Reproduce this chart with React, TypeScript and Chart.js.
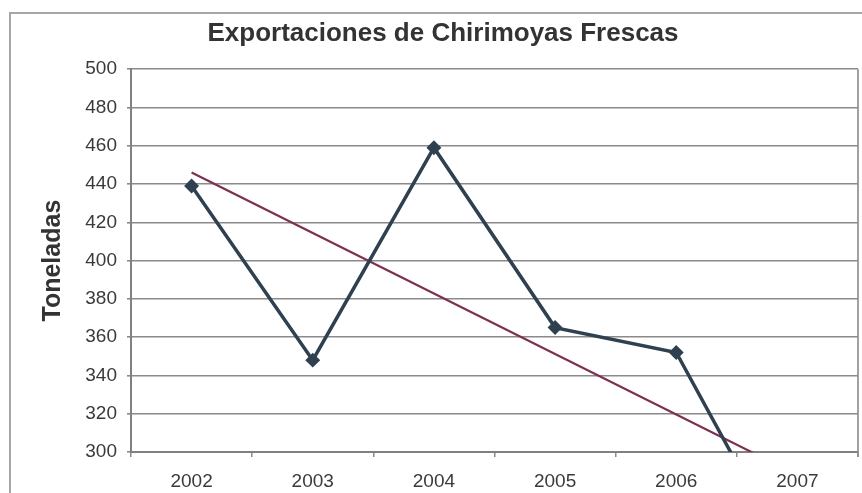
import React, { useEffect, useRef } from "react";
import { Chart, registerables } from "chart.js";

Chart.register(...registerables);

const years = ["2002", "2003", "2004", "2005", "2006", "2007"];
const exportsTons = [439, 348, 459, 365, 352, 236];
// Trend line end points (2002 and 2007)
const trendTons = [446, null, null, null, null, 288];
const yTicks = { min: 300, max: 500, step: 20 };

const chartTitle = "Exportaciones de Chirimoyas Frescas";
const yTitle = "Toneladas";

const frame = {
  id: "frame",
  beforeDraw(chart: any) {
    const ctx = chart.ctx;
    ctx.save();
    ctx.fillStyle = "#ffffff";
    ctx.fillRect(0, 0, chart.width, chart.height);
    ctx.strokeStyle = "#a6a6a6";
    ctx.lineWidth = 2;
    ctx.strokeRect(10, 13, 900, 600);
    ctx.restore();
  },
  beforeDatasetsDraw(chart: any) {
    const { ctx, chartArea } = chart;
    ctx.save();
    ctx.strokeStyle = "#8a8a8a";
    ctx.lineWidth = 1.6;
    ctx.beginPath();
    ctx.moveTo(chartArea.right, chartArea.top);
    ctx.lineTo(chartArea.right, chartArea.bottom + 5);
    ctx.stroke();
    ctx.restore();
  },
};

export default function App() {
  const ref = useRef<HTMLCanvasElement>(null);

  useEffect(() => {
    if (!ref.current) return;
    const chart = new Chart(ref.current, {
      type: "line",
      data: {
        labels: years,
        datasets: [
          {
            label: "Exportaciones",
            data: exportsTons,
            borderColor: "#2f4050",
            backgroundColor: "#2f4050",
            borderWidth: 3.5,
            pointStyle: "rectRot",
            pointRadius: 5,
            pointBackgroundColor: "#2f4050",
            pointBorderColor: "#2f4050",
            tension: 0,
          },
          {
            label: "Tendencia",
            data: trendTons as any,
            borderColor: "#7e2f52",
            borderWidth: 2.2,
            pointRadius: 0,
            spanGaps: true,
            tension: 0,
          },
        ],
      },
      plugins: [frame],
      options: {
        responsive: false,
        animation: false,
        devicePixelRatio: 1,
        layout: { padding: { left: 10, right: 10, top: 0, bottom: 0 } },
        plugins: {
          legend: { display: false },
          tooltip: { enabled: false },
          title: {
            display: true,
            text: chartTitle,
            color: "#333333",
            font: { family: "'Liberation Sans', Arial, sans-serif", size: 26, weight: "bold" },
            padding: { top: 18, bottom: 20 },
          },
        },
        scales: {
          x: {
            type: "category",
            offset: true,
            grid: {
              offset: true,
              drawOnChartArea: false,
              drawTicks: true,
              tickLength: 5,
              color: "#8a8a8a",
              lineWidth: 1.5,
            },
            border: { display: true, color: "#808080", width: 2 },
            ticks: {
              color: "#3a3a3a",
              font: { family: "'Liberation Sans', Arial, sans-serif", size: 19 },
              padding: 13,
              maxRotation: 0,
            },
            afterFit(scale: any) {
              scale.height = 41;
            },
          },
          y: {
            min: yTicks.min,
            max: yTicks.max,
            grid: {
              color: "#8a8a8a",
              lineWidth: 1.6,
              tickLength: 4,
            },
            border: { display: true, color: "#808080", width: 2 },
            ticks: {
              stepSize: yTicks.step,
              color: "#3a3a3a",
              font: { family: "'Liberation Sans', Arial, sans-serif", size: 19 },
              padding: 10,
            },
            title: {
              display: true,
              text: yTitle,
              color: "#333333",
              font: { family: "'Liberation Sans', Arial, sans-serif", size: 25, weight: "bold" },
              padding: { top: 28, bottom: 0 },
            },
            afterFit(scale: any) {
              scale.width = 121;
            },
          },
          yRight: {
            position: "right",
            display: true,
            grid: { display: false, drawTicks: false },
            border: { display: false },
            ticks: { display: false },
            afterFit(scale: any) {
              scale.width = 18;
            },
          },
        },
      },
    });
    return () => chart.destroy();
  }, []);

  return (
    <div
      style={{
        position: "fixed",
        left: 0,
        top: 0,
        width: 862,
        height: 493,
        overflow: "hidden",
        background: "#fff",
      }}
    >
      <canvas ref={ref} width={886} height={493} style={{ display: "block" }} />
    </div>
  );
}
